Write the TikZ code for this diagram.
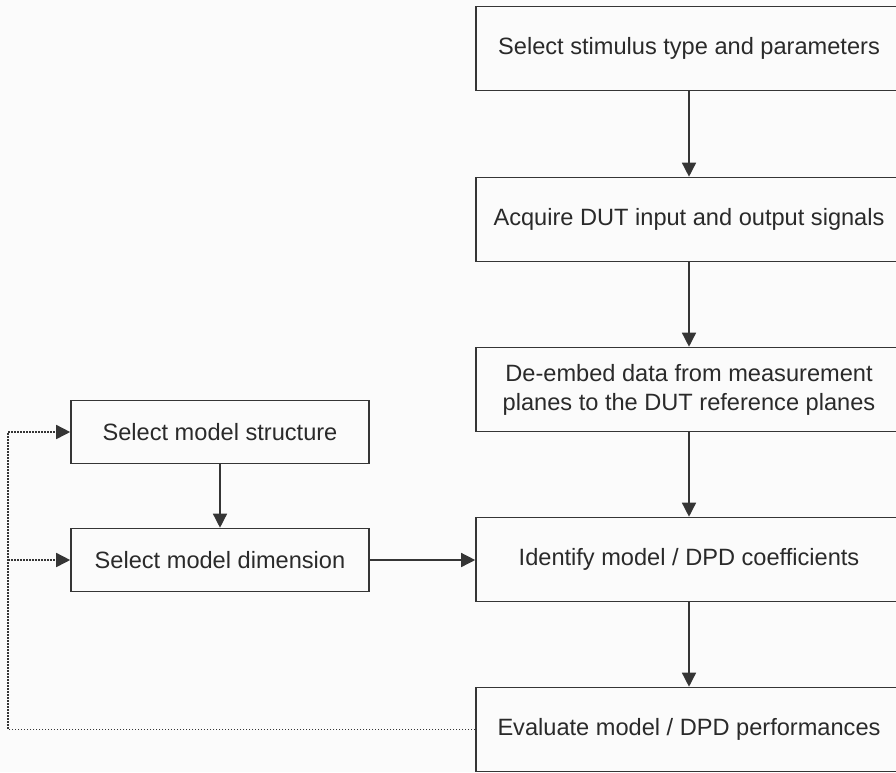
\documentclass[tikz,border=0pt]{standalone}
\usepackage{fontspec}
\setmainfont{Liberation Sans}
\usetikzlibrary{arrows.meta}
\definecolor{ink}{HTML}{353535}
\definecolor{txt}{HTML}{2A2A2A}
\definecolor{bg}{HTML}{FBFBFB}
\begin{document}
\begin{tikzpicture}[x=1pt,y=-1pt,
  box/.style={draw=ink, line width=1.6pt, rectangle, inner sep=0pt, align=center,
    text=txt, font=\fontsize{23.6}{29}\selectfont},
  rbox/.style={box, minimum width=426pt, minimum height=84pt},
  lbox/.style={box, minimum width=298pt, minimum height=63pt},
  flow/.style={draw=ink, line width=1.4pt, -{Triangle[length=14pt,width=14pt]}},
  fb/.style={draw=ink, line width=1.6pt, dash pattern=on 1.6pt off 1.4pt},
  fbarrow/.style={fb, -{Triangle[length=14pt,width=14pt]}}]
\useasboundingbox (0,0) rectangle (896,772);
\fill[bg] (0,0) rectangle (896,772);
\clip (0,0) rectangle (896,772);
\node[rbox] (b1) at (689,48.5) {Select stimulus type and parameters};
\node[rbox] (b2) at (689,219.5) {Acquire DUT input and output signals};
\node[rbox] (b3) at (689,389.5) {De-embed data from measurement\\planes to the DUT reference planes};
\node[rbox] (b4) at (689,559.5) {Identify model / DPD coefficients};
\node[rbox] (b5) at (689,729.5) {Evaluate model / DPD performances};
\node[lbox] (s1) at (220,432) {Select model structure};
\node[lbox] (s2) at (220,560) {Select model dimension};
\draw[flow] (b1) -- (b2);
\draw[flow] (b2) -- (b3);
\draw[flow] (b3) -- (b4);
\draw[flow] (b4) -- (b5);
\draw[flow] (s1) -- (s2);
\draw[flow] (s2.east) -- (s2.east -| b4.west);
\coordinate (c1) at (8,729.5);
\coordinate (c2) at (8,432);
\coordinate (c3) at (8,560);
\draw[fb] (b5.west) -- (c1) -- (c2);
\draw[fbarrow] (c2) -- (s1.west);
\draw[fbarrow] (c3) -- (s2.west);
\end{tikzpicture}
\end{document}
